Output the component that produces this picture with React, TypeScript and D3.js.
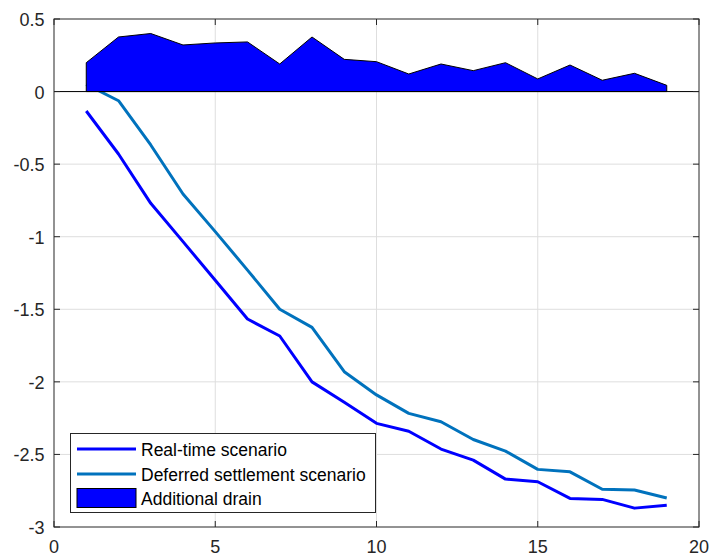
import React, { useEffect, useRef } from 'react';
import * as d3 from 'd3';

// x positions (steps)
const steps = [1, 2, 3, 4, 5, 6, 7, 8, 9, 10, 11, 12, 13, 14, 15, 16, 17, 18, 19];

const realTime = [-0.134, -0.43, -0.77, -1.034, -1.30, -1.567, -1.684, -2.0, -2.14, -2.286, -2.34,
  -2.463, -2.539, -2.67, -2.688, -2.803, -2.81, -2.87, -2.85];

const deferred = [0.05, -0.063, -0.368, -0.706, -0.965, -1.23, -1.50, -1.625, -1.93, -2.09, -2.217,
  -2.275, -2.397, -2.477, -2.603, -2.62, -2.74, -2.745, -2.80];

const drain = [0.199, 0.376, 0.40, 0.321, 0.335, 0.342, 0.19, 0.376, 0.222, 0.206, 0.121,
  0.19, 0.144, 0.199, 0.087, 0.183, 0.078, 0.126, 0.043];

const xTicks = [0, 5, 10, 15, 20];
const yTicks = [0.5, 0, -0.5, -1, -1.5, -2, -2.5, -3];

const legendLabels = ['Real-time scenario', 'Deferred settlement scenario', 'Additional drain'];

const W = 710;
const H = 556;
const margin = { top: 19, right: 11, bottom: 29, left: 54 };
const FONT = 'Arial, "Liberation Sans", Helvetica, sans-serif';

const App = () => {
  const ref = useRef<SVGSVGElement | null>(null);

  useEffect(() => {
    if (!ref.current) return;
    const svg = d3.select(ref.current);
    svg.selectAll('*').remove();

    const x = d3.scaleLinear().domain([0, 20]).range([margin.left, W - margin.right]);
    const y = d3.scaleLinear().domain([-3, 0.5]).range([H - margin.bottom, margin.top]);
    const [x0, x1] = x.range();
    const [y0, y1] = y.range();

    svg.append('rect').attr('x', x0).attr('y', y1).attr('width', x1 - x0).attr('height', y0 - y1)
      .attr('fill', '#fff');

    // grid
    const grid = svg.append('g').attr('stroke', '#dedede').attr('stroke-width', 1);
    xTicks.slice(1, -1).forEach(t => {
      grid.append('line').attr('x1', x(t)).attr('x2', x(t)).attr('y1', y0).attr('y2', y1);
    });
    yTicks.slice(1, -1).forEach(t => {
      grid.append('line').attr('x1', x0).attr('x2', x1).attr('y1', y(t)).attr('y2', y(t));
    });

    // lines
    const line = d3.line<number>()
      .x((_, i) => x(steps[i]))
      .y(d => y(d));

    svg.append('path').datum(realTime)
      .attr('fill', 'none').attr('stroke', '#0000ff').attr('stroke-width', 3)
      .attr('stroke-linejoin', 'round').attr('d', line);
    svg.append('path').datum(deferred)
      .attr('fill', 'none').attr('stroke', '#0072bd').attr('stroke-width', 3)
      .attr('stroke-linejoin', 'round').attr('d', line);

    // area
    const area = d3.area<number>()
      .x((_, i) => x(steps[i]))
      .y0(y(0))
      .y1(d => y(d));
    svg.append('path').datum(drain)
      .attr('fill', '#0000ff').attr('stroke', '#000').attr('stroke-width', 1)
      .attr('d', area);
    // baseline
    svg.append('line').attr('x1', x0).attr('x2', x1).attr('y1', y(0)).attr('y2', y(0))
      .attr('stroke', '#000').attr('stroke-width', 1);

    // axes box
    const axisColor = '#262626';
    svg.append('rect').attr('x', x0).attr('y', y1).attr('width', x1 - x0).attr('height', y0 - y1)
      .attr('fill', 'none').attr('stroke', axisColor).attr('stroke-width', 1);

    const tl = 6;
    const ticks = svg.append('g').attr('stroke', axisColor).attr('stroke-width', 1);
    xTicks.forEach(t => {
      ticks.append('line').attr('x1', x(t)).attr('x2', x(t)).attr('y1', y0).attr('y2', y0 - tl);
      ticks.append('line').attr('x1', x(t)).attr('x2', x(t)).attr('y1', y1).attr('y2', y1 + tl);
    });
    yTicks.forEach(t => {
      ticks.append('line').attr('x1', x0).attr('x2', x0 + tl).attr('y1', y(t)).attr('y2', y(t));
      ticks.append('line').attr('x1', x1).attr('x2', x1 - tl).attr('y1', y(t)).attr('y2', y(t));
    });

    // tick labels
    xTicks.forEach(t => {
      svg.append('text').attr('x', x(t)).attr('y', y0 + 26)
        .attr('text-anchor', 'middle').attr('font-family', FONT).attr('font-size', 18)
        .attr('fill', axisColor).text(String(t));
    });
    yTicks.forEach(t => {
      svg.append('text').attr('x', x0 - 9.5).attr('y', y(t) + 7)
        .attr('text-anchor', 'end').attr('font-family', FONT).attr('font-size', 18)
        .attr('fill', axisColor).text(String(t));
    });

    // legend
    const lg = svg.append('g');
    lg.append('rect').attr('x', 70.5).attr('y', 433.5).attr('width', 305).attr('height', 79)
      .attr('fill', '#fff').attr('stroke', axisColor).attr('stroke-width', 1);
    const rows = [449, 474, 498.5];
    const colors = ['#0000ff', '#0072bd'];
    legendLabels.forEach((lab, i) => {
      if (i < 2) {
        lg.append('line').attr('x1', 77).attr('x2', 136).attr('y1', rows[i]).attr('y2', rows[i])
          .attr('stroke', colors[i]).attr('stroke-width', 3);
      } else {
        lg.append('rect').attr('x', 77).attr('y', 488.5).attr('width', 59).attr('height', 19)
          .attr('fill', '#0000ff').attr('stroke', '#000').attr('stroke-width', 1);
      }
      lg.append('text').attr('x', 141).attr('y', rows[i] + 6.5)
        .attr('font-family', FONT).attr('font-size', 17.5).attr('fill', '#000').text(lab);
    });
  }, []);

  return (
    <svg ref={ref} width={W} height={H} style={{ position: 'absolute', left: 0, top: 0, background: '#fff' }} />
  );
};

export default App;
